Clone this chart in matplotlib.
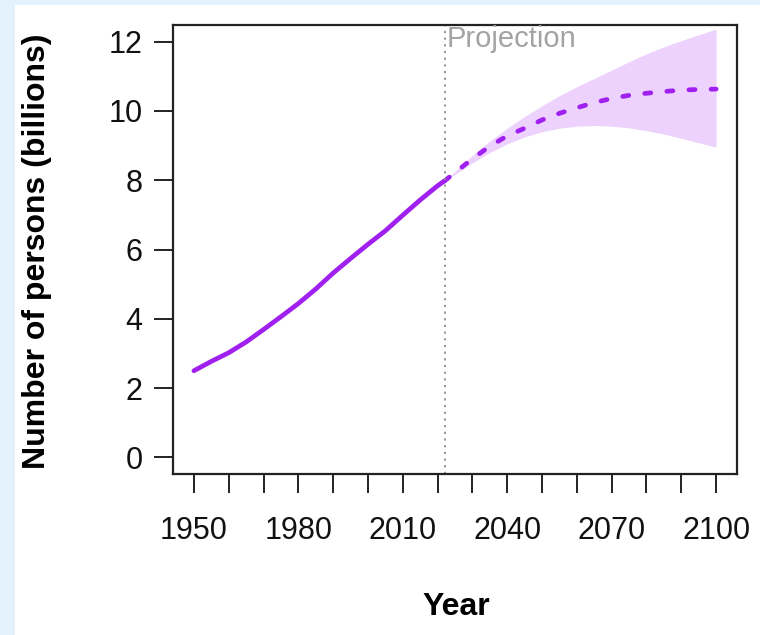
# World population: estimates to 2022, projection with 95% band to 2100
import matplotlib.pyplot as plt
from matplotlib.patches import Rectangle

plt.rcParams["font.family"] = ["Liberation Sans", "DejaVu Sans"]

# ── Data ─────────────────────────────────────────────────────────────────────
HIST_YEARS = [1950, 1955, 1960, 1965, 1970, 1975, 1980, 1985, 1990, 1995,
              2000, 2005, 2010, 2015, 2020, 2022]
HIST_POP   = [2.50, 2.77, 3.02, 3.33, 3.69, 4.06, 4.44, 4.86, 5.32, 5.74,
              6.15, 6.54, 6.99, 7.43, 7.84, 7.98]

PROJ_YEARS = [2022, 2025, 2030, 2035, 2040, 2045, 2050, 2055, 2060, 2065,
              2070, 2075, 2080, 2085, 2090, 2095, 2100]
PROJ_MED   = [7.98, 8.22, 8.62, 8.98, 9.28, 9.50, 9.74, 9.93, 10.09, 10.24,
              10.36, 10.45, 10.51, 10.56, 10.60, 10.62, 10.63]
PROJ_HI    = [7.98, 8.26, 8.72, 9.13, 9.50, 9.84, 10.15, 10.44, 10.70, 10.94,
              11.18, 11.42, 11.65, 11.85, 12.03, 12.20, 12.36]
PROJ_LO    = [7.98, 8.17, 8.50, 8.80, 9.05, 9.25, 9.40, 9.50, 9.56, 9.58,
              9.56, 9.51, 9.43, 9.33, 9.21, 9.08, 8.95]

PROJ_START = 2022
X_TICKS  = list(range(1950, 2101, 10))
X_LABELS = [str(y) if (y - 1950) % 30 == 0 else "" for y in X_TICKS]
Y_TICKS  = [0, 2, 4, 6, 8, 10, 12]

PURPLE = "#A020F0"

# ── Figure ───────────────────────────────────────────────────────────────────
fig = plt.figure(figsize=(7.6, 6.35), dpi=100, facecolor="#e4f2fd")
fig.patches.append(Rectangle((15 / 760, 0), 1, 1 - 5 / 635,
                             transform=fig.transFigure, facecolor="white",
                             edgecolor="none", zorder=-10))

ax = fig.add_axes([173 / 760, 1 - 474 / 635, 564 / 760, 449 / 635])

ax.fill_between(PROJ_YEARS, PROJ_LO, PROJ_HI, color=PURPLE, alpha=0.2,
                linewidth=0)
ax.plot(HIST_YEARS, HIST_POP, color=PURPLE, lw=3.4, solid_capstyle="round")
ax.plot(PROJ_YEARS, PROJ_MED, color=PURPLE, lw=3.4,
        linestyle=(0, (1.3, 3.4)), dash_capstyle="round")

ax.axvline(PROJ_START, color="#8c8c8c", lw=1.3, linestyle=(0, (1.2, 2.5)))
ax.text(PROJ_START + 0.6, 12.48, "Projection", color="#a3a3a3",
        fontsize=21, ha="left", va="top")

ax.set_xlim(1944, 2106)
ax.set_ylim(-0.48, 12.48)
ax.set_xticks(X_TICKS)
ax.set_xticklabels(X_LABELS)
ax.set_yticks(Y_TICKS)

ax.tick_params(axis="both", direction="out", length=14, width=1.4,
               color="#222222", labelsize=22, labelcolor="#111111")
ax.tick_params(axis="x", pad=16)
ax.tick_params(axis="y", pad=8)
for sp in ax.spines.values():
    sp.set_linewidth(1.6)
    sp.set_color("#222222")

fig.text(456 / 760, 1 - 607 / 635, "Year", fontsize=23, fontweight="bold",
         ha="center", va="center")
fig.text(37 / 760, 1 - 251 / 635, "Number of persons (billions)", fontsize=23,
         fontweight="bold", rotation=90, ha="center", va="center")

plt.savefig("out.png", dpi=100, facecolor=fig.get_facecolor())
